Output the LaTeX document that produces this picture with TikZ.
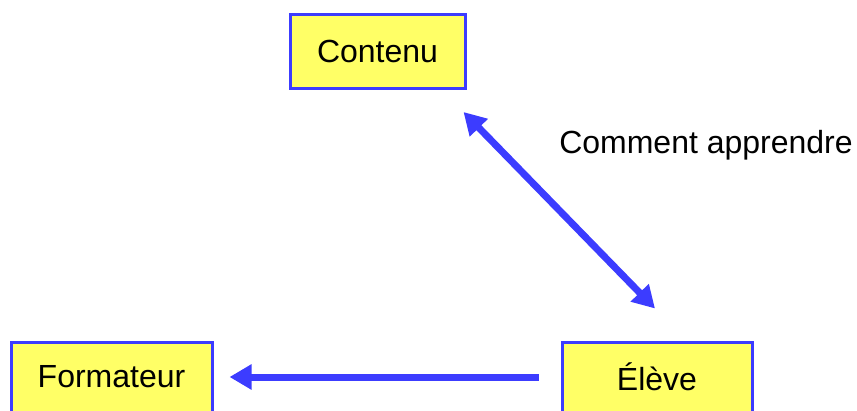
\documentclass[tikz,border=0pt]{standalone}
\usepackage{fontspec}
\setmainfont{Liberation Sans}
\usetikzlibrary{arrows.meta}
\definecolor{bleu}{RGB}{60,60,255}
\definecolor{jaune}{RGB}{255,255,102}
\begin{document}
\begin{tikzpicture}[x=1pt,y=1pt,
    boite/.style={draw=bleu, line width=3pt, fill=jaune, inner sep=0pt,
      font=\fontsize{32}{38}\selectfont},
    fleche/.style={draw=bleu, line width=7pt,
      -{Triangle[length=22pt,width=24pt]}}]
    \useasboundingbox (0,0) rectangle (857,410);

    \node[boite, minimum width=175pt, minimum height=74pt] (contenu) at (377.5,358.5) {Contenu};
    \node[boite, minimum width=201pt, minimum height=70pt] (formateur) at (111.5,33) {Formateur};
    \node[boite, minimum width=190pt, minimum height=70pt] (eleve) at (657,33) {Élève};
    \node[font=\fontsize{32}{38}\selectfont, inner sep=0pt] (apprendre) at (706,265) {Comment apprendre};

    \draw[fleche, {Triangle[length=22pt,width=24pt]}-{Triangle[length=22pt,width=24pt]}]
      ([shift={(-3pt,-22pt)}]contenu.south east) -- ([shift={(-2pt,32pt)}]eleve.north);
    \draw[fleche, shorten <=22pt, shorten >=16pt] (eleve) -- (formateur);
  \end{tikzpicture}
\end{document}
